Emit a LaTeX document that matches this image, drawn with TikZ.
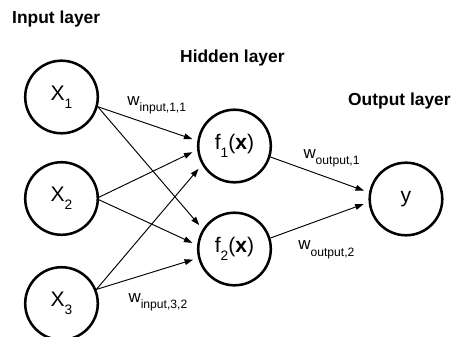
\documentclass[tikz,border=0pt]{standalone}
\usepackage{fontspec}
\setmainfont{Liberation Sans}
\usepackage{tikz}
\usetikzlibrary{arrows.meta}
\newcommand{\lowtext}[2][11.5]{\raisebox{-0.7ex}{\fontsize{#1}{#1}\selectfont #2}}

\begin{document}
\begin{tikzpicture}
                    \tikzstyle{neuron} = [draw, circle, line width=2.4pt, minimum size=2.42cm, inner sep=0pt, font=\fontsize{20}{23}\selectfont]
                    \tikzstyle{weight} = [-{Triangle[length=8pt,width=5.5pt]}, line width=0.9pt, shorten >=5pt]
                    \tikzstyle{layertitle} = [anchor=base west, inner sep=0pt, font=\fontsize{16.5}{19}\selectfont\bfseries]
                    \tikzstyle{wlabel} = [anchor=base west, inner sep=0pt, font=\fontsize{16}{19}\selectfont]
                    \useasboundingbox (0,0) rectangle (15.2,-11.233);
                    % layers
                    \node[layertitle] (tin) at (0.4,-0.783) {Input layer};
                    \node[layertitle] (thid) at (6.0,-2.067) {Hidden layer};
                    \node[layertitle] (tout) at (11.6,-3.533) {Output layer};
                    \node[neuron] (x1) at (2.05,-3.233) {X\lowtext[13]{1}};
                    \node[neuron] (x2) at (2.05,-6.617) {X\lowtext[13]{2}};
                    \node[neuron] (x3) at (2.05,-10.117) {X\lowtext[13]{3}};
                    \node[neuron] (f1) at (7.817,-4.867) {f\lowtext[13]{1}(\textbf{x})};
                    \node[neuron] (f2) at (7.817,-8.3) {f\lowtext[13]{2}(\textbf{x})};
                    \node[neuron] (out) at (13.533,-6.633) {y};
                    % weights
                    \draw[weight] (x1.-15) -- (f1.172);
                    \draw[weight] (x1.-15) -- (f2.148);
                    \draw[weight] (x2.2) -- (f1.-174);
                    \draw[weight] (x2.-2) -- (f2.174);
                    \draw[weight] (x3.22) -- (f1.-150);
                    \draw[weight] (x3.22) -- (f2.-166);
                    \draw[weight] (f1.-17.7) -- (out.170);
                    \draw[weight] (f2.17.7) -- (out.-175);
                    \node[wlabel] (w11) at (4.24,-3.52) {w\lowtext{input,1,1}};
                    \node[wlabel] (w32) at (4.28,-10.09) {w\lowtext{input,3,2}};
                    \node[wlabel] (wo1) at (10.11,-5.29) {w\lowtext{output,1}};
                    \node[wlabel] (wo2) at (9.94,-8.33) {w\lowtext{output,2}};
                \end{tikzpicture}
\end{document}
